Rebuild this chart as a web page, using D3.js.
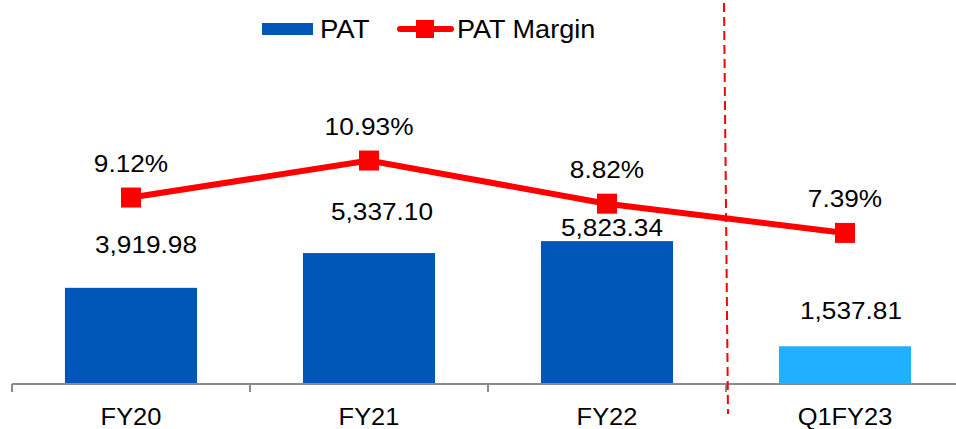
<!DOCTYPE html>
<html>

<head>
    <meta charset="utf-8">
    <style>
        body {
            margin: 0;
            background: #fff;
        }

        svg {
            display: block;
            font-family: Arial, 'Liberation Sans', sans-serif;
        }
    </style>
</head>

<body>
    <svg width="956" height="429"></svg>

    <script src="https://d3js.org/d3.v7.min.js"></script>
    <script>
        // chart values
        let categories = ["FY20", "FY21", "FY22", "Q1FY23"]
        let patValues = [3919.98, 5337.10, 5823.34, 1537.81]
        let patLabels = ["3,919.98", "5,337.10", "5,823.34", "1,537.81"]
        let marginValues = [9.12, 10.93, 8.82, 7.39]
        let marginLabels = ["9.12%", "10.93%", "8.82%", "7.39%"]

        // label nudges (pixels) to follow the original placement
        let patLabelDx = [15, 13, 5, 6]
        let patLabelDy = [35, 33, 5, 27]

        let width = 956
        let height = 429
        let baseY = 384

        let svg = d3.select("svg")

        let x = d3.scaleBand()
            .domain(categories)
            .range([12, 964])
            .padding(0)

        let yPat = d3.scaleLinear()
            .domain([0, 15000])
            .range([baseY, 16])

        let yMargin = d3.scaleLinear()
            .domain([0, 18])
            .range([baseY, 16])

        let barW = x.bandwidth() * 0.555
        let cx = d => x(d) + x.bandwidth() / 2

        // horizontally stretched text, like the original rendering
        function stretchText(g, tx, ty, txt, size, sx, anchor) {
            return g.append("text")
                .attr("transform", `translate(${tx},${ty}) scale(${sx},1)`)
                .attr("text-anchor", anchor || "middle")
                .style("font-size", size + "px")
                .style("fill", "#000")
                .text(txt)
        }

        // bars
        svg.selectAll(".bar")
            .data(categories)
            .join("rect")
            .attr("class", "bar")
            .attr("x", d => cx(d) - barW / 2)
            .attr("width", barW)
            .attr("y", (d, i) => yPat(patValues[i]))
            .attr("height", (d, i) => baseY - yPat(patValues[i]))
            .style("fill", (d, i) => i == 3 ? "#21AFFF" : "#0057B8")

        // axis line + ticks at the band edges
        svg.append("line")
            .attr("x1", x.range()[0])
            .attr("x2", x.range()[1])
            .attr("y1", baseY)
            .attr("y2", baseY)
            .style("stroke", "#8c8c8c")
            .style("stroke-width", 2)

        let edges = categories.map(d => x(d)).concat([x.range()[1]])
        svg.selectAll(".tick")
            .data(edges)
            .join("line")
            .attr("class", "tick")
            .attr("x1", d => d)
            .attr("x2", d => d)
            .attr("y1", baseY)
            .attr("y2", baseY + 8)
            .style("stroke", "#8c8c8c")
            .style("stroke-width", 2)

        categories.forEach(d => {
            stretchText(svg, cx(d), 425, d, 24, 1.06)
        })

        // dashed divider between FY22 and Q1FY23
        let divX = x("Q1FY23")
        svg.append("line")
            .attr("x1", divX - 2)
            .attr("x2", divX + 2)
            .attr("y1", 3)
            .attr("y2", 414)
            .style("stroke", "#ff0000")
            .style("stroke-width", 2)
            .style("stroke-dasharray", "9,5")

        // margin line
        let line = d3.line()
            .x((d, i) => cx(categories[i]))
            .y(d => yMargin(d))

        svg.append("path")
            .datum(marginValues)
            .attr("d", line)
            .style("fill", "none")
            .style("stroke", "#ff0000")
            .style("stroke-width", 6)

        svg.selectAll(".marker")
            .data(marginValues)
            .join("rect")
            .attr("class", "marker")
            .attr("x", (d, i) => cx(categories[i]) - 10)
            .attr("y", d => yMargin(d) - 10)
            .attr("width", 20)
            .attr("height", 20)
            .style("fill", "#ff0000")

        // data labels
        marginValues.forEach((v, i) => {
            stretchText(svg, cx(categories[i]), yMargin(v) - 26, marginLabels[i], 23, 1.14)
        })
        patValues.forEach((v, i) => {
            stretchText(svg, cx(categories[i]) + patLabelDx[i], yPat(v) - patLabelDy[i], patLabels[i], 23, 1.14)
        })

        // legend
        let legend = svg.append("g")
        legend.append("rect")
            .attr("x", 262)
            .attr("y", 23)
            .attr("width", 51)
            .attr("height", 12)
            .style("fill", "#0057B8")
        stretchText(legend, 320, 38, "PAT", 26, 1.06, "start")
        legend.append("line")
            .attr("x1", 400)
            .attr("x2", 451)
            .attr("y1", 29)
            .attr("y2", 29)
            .style("stroke", "#ff0000")
            .style("stroke-width", 6)
            .style("stroke-linecap", "round")
        legend.append("rect")
            .attr("x", 416)
            .attr("y", 20)
            .attr("width", 18)
            .attr("height", 18)
            .style("fill", "#ff0000")
        stretchText(legend, 457, 38, "PAT Margin", 26, 1.04, "start")
    </script>
</body>

</html>
